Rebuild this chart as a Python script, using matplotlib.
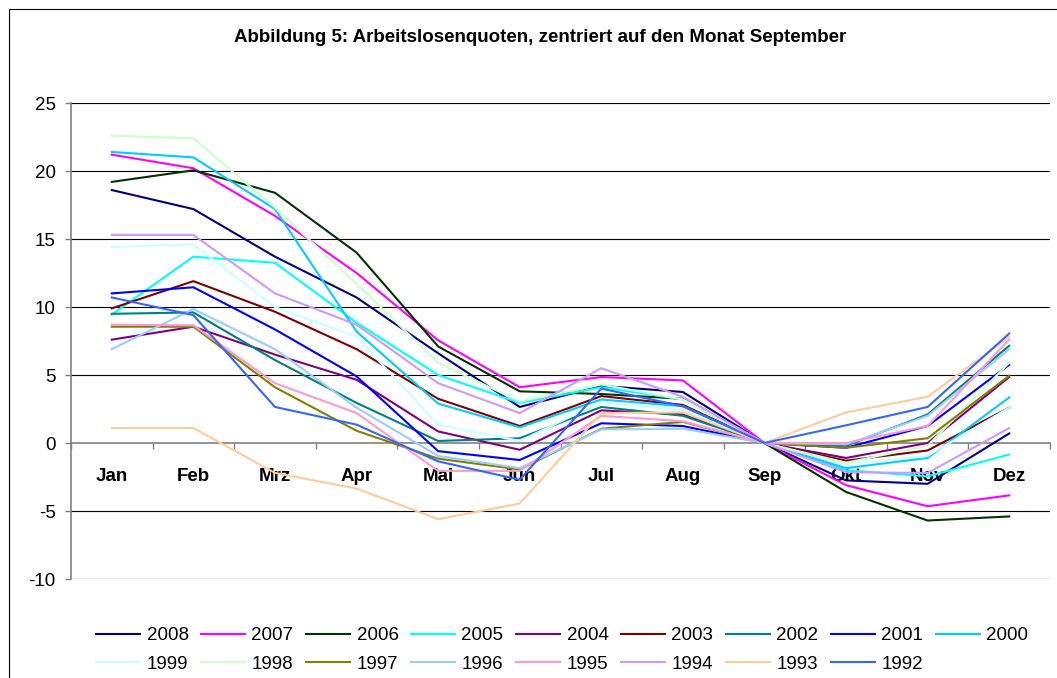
import matplotlib
matplotlib.use("Agg")
import matplotlib.pyplot as plt
from matplotlib.lines import Line2D
from matplotlib.ticker import FixedLocator

plt.rcParams['font.family'] = ['Liberation Sans', 'DejaVu Sans']
plt.rcParams['axes.unicode_minus'] = False

months = ["Jan", "Feb", "Mrz", "Apr", "Mai", "Jun", "Jul", "Aug", "Sep", "Okt", "Nov", "Dez"]
years = ["2008", "2007", "2006", "2005", "2004", "2003", "2002", "2001", "2000",
         "1999", "1998", "1997", "1996", "1995", "1994", "1993", "1992"]

v2008 = [18.6, 17.2, 13.7, 10.7, 6.6, 2.65, 4.2, 3.75, 0, -2.75, -3.0, 0.7]
v2007 = [21.2, 20.2, 16.7, 12.5, 7.55, 4.1, 4.85, 4.6, 0, -3.1, -4.65, -3.85]
v2006 = [19.2, 20.05, 18.4, 14.0, 7.1, 3.8, 3.6, 3.25, 0, -3.6, -5.7, -5.4]
v2005 = [9.45, 13.7, 13.25, 8.85, 5.0, 2.95, 4.1, 3.2, 0, -2.0, -2.45, -0.85]
v2004 = [7.6, 8.55, 6.5, 4.65, 0.85, -0.5, 2.4, 2.1, 0, -1.1, 0.0, 4.85]
v2003 = [9.9, 11.9, 9.65, 6.9, 3.25, 1.25, 3.45, 2.8, 0, -1.3, -0.55, 2.6]
v2002 = [9.5, 9.6, 6.1, 2.95, 0.15, 0.35, 2.65, 2.0, 0, -0.2, 2.1, 7.15]
v2001 = [11.0, 11.45, 8.35, 4.9, -0.6, -1.25, 1.45, 1.25, 0, -0.35, 1.25, 5.75]
v2000 = [21.4, 21.0, 17.2, 8.2, 2.9, 1.15, 3.2, 2.7, 0, -1.85, -1.1, 3.35]
v1999 = [14.4, 14.6, 10.0, 7.8, 1.35, 0.15, 3.0, 2.4, 0, -1.55, -0.95, 2.6]
v1998 = [22.6, 22.4, 17.3, 11.7, 5.9, 3.05, 4.3, 3.2, 0, -1.45, -0.2, 5.9]
v1997 = [8.55, 8.55, 4.1, 0.9, -1.15, -1.95, 1.05, 1.55, 0, -0.35, 0.35, 4.95]
v1996 = [6.9, 9.85, 6.9, 2.6, -0.95, -1.85, 1.0, 1.05, 0, -0.1, 2.0, 6.9]
v1995 = [8.7, 8.65, 4.4, 2.2, -2.05, -2.05, 2.0, 1.6, 0, 0.0, 1.25, 7.6]
v1994 = [15.3, 15.3, 11.0, 8.7, 4.4, 2.2, 5.5, 3.4, 0, -2.15, -2.2, 1.1]
v1993 = [1.1, 1.1, -2.2, -3.35, -5.6, -4.45, 2.2, 2.25, 0, 2.25, 3.4, 7.8]
v1992 = [10.7, 9.4, 2.65, 1.35, -1.35, -2.7, 4.0, 2.7, 0, 1.3, 2.65, 8.05]

series = [v2008, v2007, v2006, v2005, v2004, v2003, v2002, v2001, v2000,
          v1999, v1998, v1997, v1996, v1995, v1994, v1993, v1992]
colors = ["#000080", "#FF00FF", "#003300", "#00FFFF", "#800080", "#800000", "#008080",
          "#0000FF", "#00CCFF", "#CCFFFF", "#CCFFCC", "#808000", "#99CCFF", "#FF99CC",
          "#CC99FF", "#FFCC99", "#3366FF"]
yticks = [-10, -5, 0, 5, 10, 15, 20, 25]

W, H = 1057, 678
fig = plt.figure(figsize=(W / 100, H / 100), dpi=100)
ax = fig.add_axes([71 / W, 1 - 579 / H, (1050 - 71) / W, (579 - 103) / H])

x = list(range(len(months)))
handles = []
for name, vals, c in zip(years, series, colors):
    h, = ax.plot(x, vals, color=c, lw=1.5, label=name, zorder=3)
    handles.append(h)

ax.set_xlim(-0.5, len(months) - 0.5)
ax.set_ylim(-10, 25)
ax.set_yticks(yticks)
ax.set_yticklabels([str(t) for t in yticks], fontsize=13.5)
for t in yticks:
    if t != 0:
        ax.axhline(t, color="#000000", lw=0.8, zorder=1)

for s in ["top", "right"]:
    ax.spines[s].set_visible(False)
ax.spines["left"].set_color("#808080")
ax.spines["left"].set_linewidth(1.2)
ax.spines["bottom"].set_position(("data", 0))
ax.spines["bottom"].set_color("#808080")
ax.spines["bottom"].set_linewidth(1.2)
for s in ax.spines.values():
    s.set_zorder(1.5)

ax.set_xticks(x)
ax.set_xticklabels(months, fontsize=13.5, fontweight="bold")
ax.xaxis.set_minor_locator(FixedLocator([i - 0.5 for i in range(len(months) + 1)]))
ax.tick_params(axis="x", which="major", length=0, pad=18)
ax.tick_params(axis="x", which="minor", length=4, width=1, color="#808080", direction="out")
ax.tick_params(axis="y", which="major", length=4, width=1, color="#808080", pad=7)
ax.xaxis.set_zorder(1.5)
ax.yaxis.set_zorder(1.5)

fig.text(540 / W, 1 - 38 / H, "Abbildung 5: Arbeitslosenquoten, zentriert auf den Monat September",
         ha="center", va="center", fontsize=13.5, fontweight="bold")

# legend: row-major order with 9 columns
order = []
for i in range(9):
    order.append(i)
    if i + 9 < len(handles):
        order.append(i + 9)
leg = fig.legend([handles[i] for i in order], [years[i] for i in order],
                 ncol=9, loc="center", bbox_to_anchor=(562 / W, 1 - 650 / H),
                 frameon=False, fontsize=13.5, handlelength=2.35, handletextpad=0.35,
                 columnspacing=0.66, labelspacing=0.62, borderpad=0, borderaxespad=0)

# outer chart border
fig.add_artist(Line2D([8.5 / W, 8.5 / W], [0, 1 - 8.5 / H], color="#000000", lw=0.8,
                      transform=fig.transFigure))
fig.add_artist(Line2D([8.5 / W, 1], [1 - 8.5 / H, 1 - 8.5 / H], color="#000000", lw=0.8,
                      transform=fig.transFigure))

fig.savefig("out.png", dpi=100)
